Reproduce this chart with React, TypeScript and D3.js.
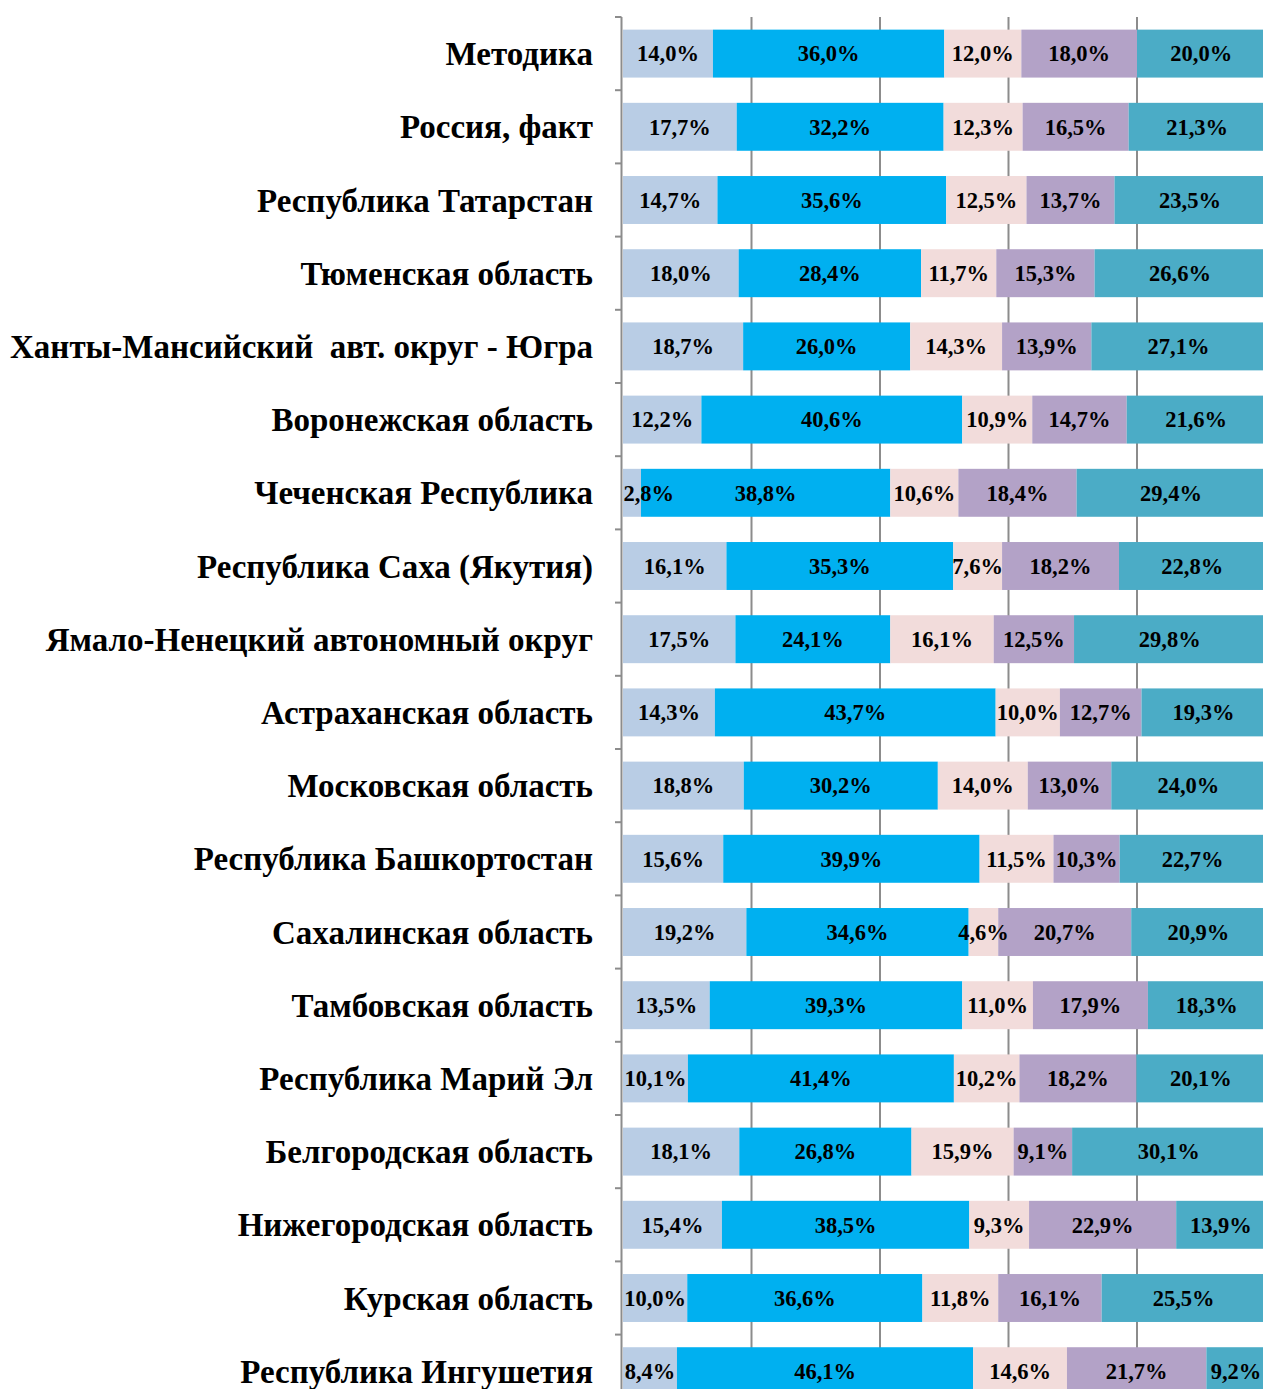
import React from 'react';
import * as d3 from 'd3';

const categories = [
  'Методика',
  'Россия, факт',
  'Республика Татарстан',
  'Тюменская область',
  'Ханты-Мансийский  авт. округ - Югра',
  'Воронежская область',
  'Чеченская Республика',
  'Республика Саха (Якутия)',
  'Ямало-Ненецкий автономный округ',
  'Астраханская область',
  'Московская область',
  'Республика Башкортостан',
  'Сахалинская область',
  'Тамбовская область',
  'Республика Марий Эл',
  'Белгородская область',
  'Нижегородская область',
  'Курская область',
  'Республика Ингушетия',
];

// five shares per region, %
const series1 = [14.0, 17.7, 14.7, 18.0, 18.7, 12.2, 2.8, 16.1, 17.5, 14.3, 18.8, 15.6, 19.2, 13.5, 10.1, 18.1, 15.4, 10.0, 8.4];
const series2 = [36.0, 32.2, 35.6, 28.4, 26.0, 40.6, 38.8, 35.3, 24.1, 43.7, 30.2, 39.9, 34.6, 39.3, 41.4, 26.8, 38.5, 36.6, 46.1];
const series3 = [12.0, 12.3, 12.5, 11.7, 14.3, 10.9, 10.6, 7.6, 16.1, 10.0, 14.0, 11.5, 4.6, 11.0, 10.2, 15.9, 9.3, 11.8, 14.6];
const series4 = [18.0, 16.5, 13.7, 15.3, 13.9, 14.7, 18.4, 18.2, 12.5, 12.7, 13.0, 10.3, 20.7, 17.9, 18.2, 9.1, 22.9, 16.1, 21.7];
const series5 = [20.0, 21.3, 23.5, 26.6, 27.1, 21.6, 29.4, 22.8, 29.8, 19.3, 24.0, 22.7, 20.9, 18.3, 20.1, 30.1, 13.9, 25.5, 9.2];

const allSeries = [series1, series2, series3, series4, series5];
const colors = ['#B9CDE5', '#00B0F0', '#F2DCDB', '#B3A2C7', '#4BACC6'];
const gridTicks = [0, 20, 40, 60, 80, 100];

const W = 1263;
const H = 1389;
const x0 = 623;
const top = 17;
const bandStep = 73.2;
const font = "'Liberation Serif', 'Times New Roman', serif";
const valueSize = 22.5;

export default function App() {
  const x = d3.scaleLinear().domain([0, 100]).range([x0, x0 + 642.5]);
  const y = d3
    .scaleBand<string>()
    .domain(categories)
    .range([top, top + bandStep * categories.length])
    .paddingInner(0.345)
    .paddingOuter(0.1725);

  const rows = categories.map((c, i) => {
    let acc = 0;
    return allSeries.map((s, k) => {
      const v = s[i];
      const seg = { k, v, start: acc, end: acc + v };
      acc += v;
      return seg;
    });
  });

  const fmt = (v: number) => v.toFixed(1).replace('.', ',') + '%';
  // rough width of a label in Times-like bold
  const estW = (t: string) =>
    (t.replace(/[^0-9]/g, '').length * 0.5 + 0.25 + 0.95) * valueSize;
  const axisColor = '#8C8C8C';

  return (
    <svg
      width={W}
      height={H}
      style={{ position: 'absolute', left: 0, top: 0, background: '#fff' }}
    >
      {/* gridlines behind bars */}
      {gridTicks.slice(1).map((t) => (
        <line
          key={t}
          x1={x(t)}
          x2={x(t)}
          y1={top}
          y2={H}
          stroke={axisColor}
          strokeWidth={2}
        />
      ))}
      {/* axis */}
      <line x1={x0 - 1.5} x2={x0 - 1.5} y1={top} y2={H} stroke={axisColor} strokeWidth={2} />
      {d3.range(categories.length + 1).map((i) => (
        <line
          key={i}
          x1={x0 - 8}
          x2={x0 - 1.5}
          y1={top + i * bandStep}
          y2={top + i * bandStep}
          stroke={axisColor}
          strokeWidth={2}
        />
      ))}
      {rows.map((segs, i) => {
        const c = categories[i];
        const by = y(c)!;
        const bh = y.bandwidth();
        const cy = by + bh / 2;
        return (
          <g key={c}>
            {segs.map((s) => (
              <rect
                key={s.k}
                x={x(s.start)}
                y={by}
                width={x(s.end) - x(s.start)}
                height={bh}
                fill={colors[s.k]}
              />
            ))}
            {segs.map((s) => {
              const label = fmt(s.v);
              const w = estW(label);
              let cx = (x(s.start) + x(s.end)) / 2;
              if (cx - w / 2 < x0 + 1) cx = x0 + 1 + w / 2;
              return (
                <text
                  key={'t' + s.k}
                  x={cx}
                  y={cy}
                  dy="0.35em"
                  textAnchor="middle"
                  fontFamily={font}
                  fontWeight="bold"
                  fontSize={valueSize}
                  fill="#000"
                >
                  {label}
                </text>
              );
            })}
            <text
              x={593}
              y={cy}
              dy="0.35em"
              textAnchor="end"
              fontFamily={font}
              fontWeight="bold"
              fontSize={33}
              fill="#000"
              style={{ whiteSpace: 'pre' }}
            >
              {c}
            </text>
          </g>
        );
      })}
    </svg>
  );
}
